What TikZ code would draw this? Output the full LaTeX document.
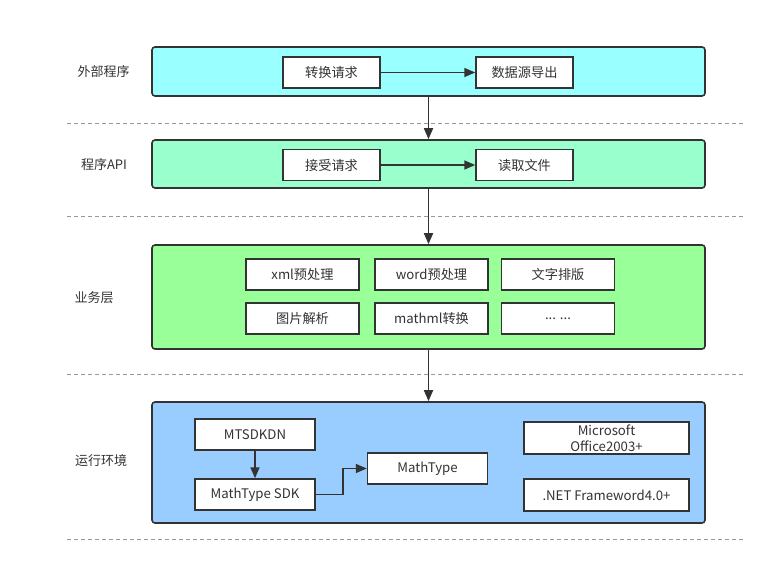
\documentclass[tikz,border=0pt]{standalone}
\usepackage{fontspec}
\setmainfont{Noto Sans CJK SC}
\usetikzlibrary{arrows.meta}
\definecolor{cA}{HTML}{99FFFF}
\definecolor{cB}{HTML}{99FFCC}
\definecolor{cC}{HTML}{99FF99}
\definecolor{cD}{HTML}{99CCFF}
\definecolor{ink}{HTML}{333333}
\begin{document}
\begin{tikzpicture}[x=1pt,y=-1pt,
 layer/.style={draw=ink, line width=1.6pt, rounded corners=3pt, inner sep=0pt, minimum width=553pt},
 box/.style={draw=ink, fill=white, line width=1.5pt, inner sep=0pt, font=\fontsize{13.2}{16.5}\selectfont, text=ink, align=center, minimum height=31pt},
 lbl/.style={font=\fontsize{13}{15}\selectfont, text=ink},
 sep/.style={draw=black!40, dash pattern=on 4pt off 3pt, line width=1pt},
 arr/.style={-{Triangle[length=11pt,width=9pt]}, line width=1.7pt, draw=ink}]
\useasboundingbox (0,0) rectangle (778,583);
% separators
\draw[sep] (67,123) -- (745,123);
\draw[sep] (67,216) -- (745,216);
\draw[sep] (67,374) -- (745,374);
\draw[sep] (67,539) -- (745,539);
% layer labels
\node[lbl] (t1) at (103.5,72) {外部程序};
\node[lbl] (t2) at (104,165) {程序API};
\node[lbl] (t3) at (94,298) {业务层};
\node[lbl] (t4) at (101,461) {运行环境};
% layers
\node[layer, fill=cA, minimum height=49pt] (L1) at (428.5,71.5) {};
\node[layer, fill=cB, minimum height=48pt] (L2) at (428.5,164) {};
\node[layer, fill=cC, minimum height=104pt] (L3) at (428.5,297) {};
\node[layer, fill=cD, minimum height=121pt] (L4) at (428.5,462.5) {};
% layer 1
\node[box, minimum width=97pt] (a1) at (331.5,72.5) {转换请求};
\node[box, minimum width=97pt] (a2) at (524.5,72.5) {数据源导出};
% layer 2
\node[box, minimum width=97pt] (b1) at (331.5,165) {接受请求};
\node[box, minimum width=97pt] (b2) at (524.5,165) {读取文件};
% layer 3
\node[box, minimum width=113pt] (c11) at (302.5,274.5) {xml预处理};
\node[box, minimum width=113pt] (c12) at (431.5,274.5) {word预处理};
\node[box, minimum width=113pt] (c13) at (558,274.5) {文字排版};
\node[box, minimum width=113pt] (c21) at (302.5,318.5) {图片解析};
\node[box, minimum width=113pt] (c22) at (431.5,318.5) {mathml转换};
\node[box, minimum width=113pt] (c23) at (558,318.5) {... ...};
% layer 4
\node[box, minimum width=120pt] (d1) at (255,434.5) {MTSDKDN};
\node[box, minimum width=120pt] (d2) at (255,494.5) {MathType SDK};
\node[box, minimum width=120pt] (d3) at (427.5,468.5) {MathType};
\node[box, minimum width=165pt, minimum height=32pt] (d4) at (606.5,438) {Microsoft\\Office2003+};
\node[box, minimum width=165pt, minimum height=32pt] (d5) at (606.5,495) {.NET Frameword4.0+};
% connectors
\draw[arr] (a1) -- (a2);
\draw[arr] (b1) -- (b2);
\draw[arr] (L1) -- (L2);
\draw[arr] (L2) -- (L3);
\draw[arr] (L3) -- (L4);
\draw[arr] (d1) -- (d2);
\draw[arr] (d2.east) -- ++(27.5,0) |- (d3.west);
\end{tikzpicture}
\end{document}
